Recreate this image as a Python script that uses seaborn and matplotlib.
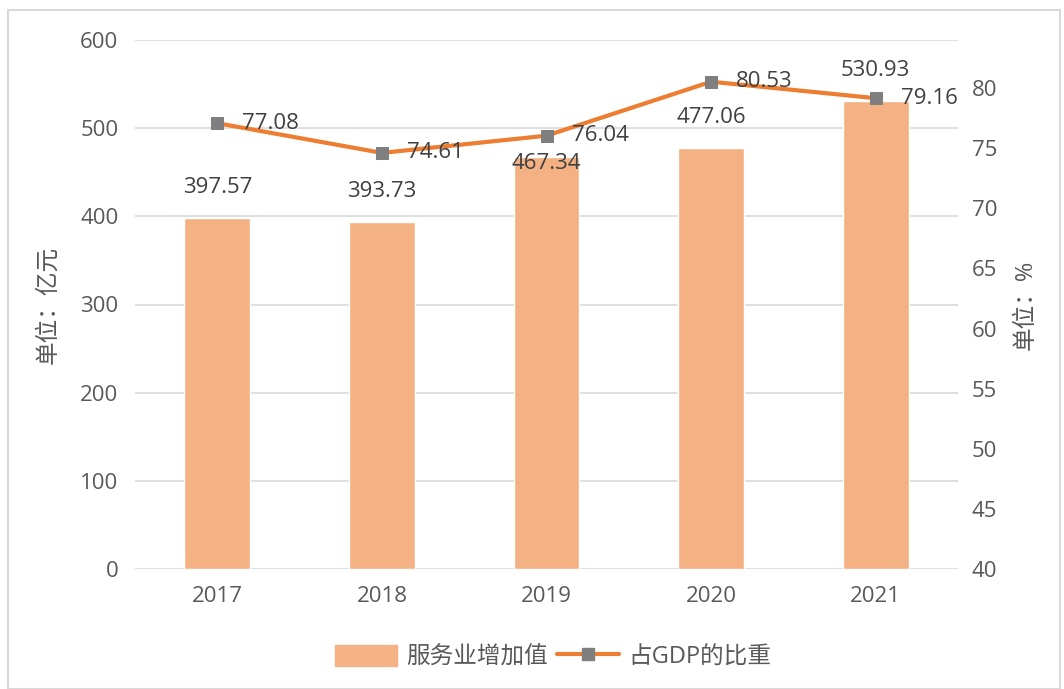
import numpy as np
import pandas as pd
import seaborn as sns
import matplotlib.pyplot as plt
from matplotlib.patches import Rectangle
from matplotlib.lines import Line2D

years = ["2017", "2018", "2019", "2020", "2021"]
value_added = [397.57, 393.73, 467.34, 477.06, 530.93]   # 服务业增加值, 亿元
gdp_share = [77.08, 74.61, 76.04, 80.53, 79.16]          # 占GDP的比重, %

bar_color = "#F4B183"
line_color = "#ED7D31"
marker_color = "#7F7F7F"
text_color = "#595959"

sns.set_theme(style="white")
plt.rcParams["font.family"] = ["Open Sans", "Noto Sans CJK SC", "DejaVu Sans"]

df = pd.DataFrame({"year": years, "value": value_added, "share": gdp_share})

fig = plt.figure(figsize=(10.64, 6.89), dpi=100)
ax = fig.add_axes([135 / 1064, 1 - 569 / 689, (958 - 135) / 1064, (569 - 40) / 689])

sns.barplot(data=df, x="year", y="value", color=bar_color, saturation=1, width=0.4, ax=ax)
ax.set_ylim(0, 600)
ax.set_yticks(np.arange(0, 601, 100))
ax.yaxis.grid(True, color="#D9D9D9", linewidth=1.2)
ax.set_axisbelow(True)
ax.set_xlim(-0.5, 4.5)
ax.set_xlabel("")
ax.set_ylabel("单位：亿元", fontsize=17, color=text_color, labelpad=14)
ax.tick_params(axis="both", length=0, labelsize=16, labelcolor=text_color)
ax.tick_params(axis="x", pad=12)
ax.tick_params(axis="y", pad=12)
for s in ax.spines.values():
    s.set_visible(False)

# bar value labels (offset in points above bar top)
bar_offsets = [22, 22, -5, 22, 22]
for i, v in enumerate(value_added):
    ax.annotate(f"{v:.2f}", (i, v), xytext=(0, bar_offsets[i]), textcoords="offset points",
                ha="center", va="center", fontsize=16, color="#404040")

ax2 = ax.twinx()
pos = np.arange(len(years))
sns.lineplot(x=pos, y=gdp_share, color=line_color, linewidth=3, marker="s", markersize=9,
             markerfacecolor=marker_color, markeredgecolor=marker_color, ax=ax2)
ax2.set_ylim(40, 84)
ax2.set_yticks(np.arange(40, 81, 5))
ax2.set_ylabel("单位：%", fontsize=17, color=text_color, labelpad=12)
ax2.tick_params(axis="y", length=0, labelsize=16, labelcolor=text_color, pad=10)
for s in ax2.spines.values():
    s.set_visible(False)
ax2.set_xlim(-0.5, 4.5)

for i, v in enumerate(gdp_share):
    ax2.annotate(f"{v:.2f}", (i, v), xytext=(18, 0), textcoords="offset points",
                 ha="left", va="center", fontsize=16, color="#404040")

handles = [Rectangle((0, 0), 1, 1, color=bar_color),
           Line2D([], [], color=line_color, linewidth=3, marker="s", markersize=9,
                  markerfacecolor=marker_color, markeredgecolor=marker_color)]
fig.legend(handles, ["服务业增加值", "占GDP的比重"], loc="center", bbox_to_anchor=(0.52, 1 - 657 / 689),
           ncol=2, frameon=False, fontsize=17, labelcolor=text_color, handlelength=2.6,
           handleheight=1.0, columnspacing=0.4, handletextpad=0.4)

fig.patches.append(Rectangle((8 / 1064, 0), (1060 - 8) / 1064, 1 - 10 / 689,
                             transform=fig.transFigure, fill=False, edgecolor="#D9D9D9", linewidth=1.5))

fig.savefig("out.png", dpi=100)
